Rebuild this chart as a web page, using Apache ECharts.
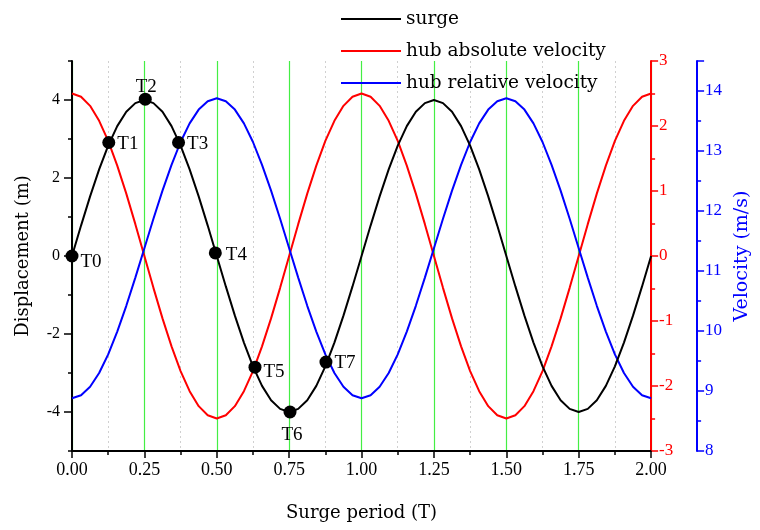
<!DOCTYPE html>
<html>
<head>
<meta charset="utf-8">
<script src="https://cdn.jsdelivr.net/npm/echarts@6/dist/echarts.min.js"></script>
<style>html,body{margin:0;padding:0;background:#fff}#c{width:760px;height:530px}</style>
</head>
<body>
<div id="c"></div>
<script>
// Surge period sample points (T), step 1/32
var period = [0, 0.03125, 0.0625, 0.09375, 0.125, 0.15625, 0.1875, 0.21875, 0.25, 0.28125, 0.3125, 0.34375, 0.375, 0.40625, 0.4375, 0.46875,
  0.5, 0.53125, 0.5625, 0.59375, 0.625, 0.65625, 0.6875, 0.71875, 0.75, 0.78125, 0.8125, 0.84375, 0.875, 0.90625, 0.9375, 0.96875,
  1.0, 1.03125, 1.0625, 1.09375, 1.125, 1.15625, 1.1875, 1.21875, 1.25, 1.28125, 1.3125, 1.34375, 1.375, 1.40625, 1.4375, 1.46875,
  1.5, 1.53125, 1.5625, 1.59375, 1.625, 1.65625, 1.6875, 1.71875, 1.75, 1.78125, 1.8125, 1.84375, 1.875, 1.90625, 1.9375, 1.96875, 2.0];
// surge displacement (m)
var surge = [0, 0.78, 1.53, 2.22, 2.83, 3.33, 3.70, 3.92, 4.0, 3.92, 3.70, 3.33, 2.83, 2.22, 1.53, 0.78,
  0, -0.78, -1.53, -2.22, -2.83, -3.33, -3.70, -3.92, -4.0, -3.92, -3.70, -3.33, -2.83, -2.22, -1.53, -0.78,
  0, 0.78, 1.53, 2.22, 2.83, 3.33, 3.70, 3.92, 4.0, 3.92, 3.70, 3.33, 2.83, 2.22, 1.53, 0.78,
  0, -0.78, -1.53, -2.22, -2.83, -3.33, -3.70, -3.92, -4.0, -3.92, -3.70, -3.33, -2.83, -2.22, -1.53, -0.78, 0];
// hub absolute velocity (m/s)
var hubAbs = [2.5, 2.45, 2.31, 2.08, 1.77, 1.39, 0.96, 0.49, 0, -0.49, -0.96, -1.39, -1.77, -2.08, -2.31, -2.45,
  -2.5, -2.45, -2.31, -2.08, -1.77, -1.39, -0.96, -0.49, 0, 0.49, 0.96, 1.39, 1.77, 2.08, 2.31, 2.45,
  2.5, 2.45, 2.31, 2.08, 1.77, 1.39, 0.96, 0.49, 0, -0.49, -0.96, -1.39, -1.77, -2.08, -2.31, -2.45,
  -2.5, -2.45, -2.31, -2.08, -1.77, -1.39, -0.96, -0.49, 0, 0.49, 0.96, 1.39, 1.77, 2.08, 2.31, 2.45, 2.5];
// hub relative velocity (m/s)
var hubRel = [8.88, 8.93, 9.07, 9.30, 9.61, 9.99, 10.42, 10.89, 11.38, 11.87, 12.34, 12.77, 13.15, 13.46, 13.69, 13.83,
  13.88, 13.83, 13.69, 13.46, 13.15, 12.77, 12.34, 11.87, 11.38, 10.89, 10.42, 9.99, 9.61, 9.30, 9.07, 8.93,
  8.88, 8.93, 9.07, 9.30, 9.61, 9.99, 10.42, 10.89, 11.38, 11.87, 12.34, 12.77, 13.15, 13.46, 13.69, 13.83,
  13.88, 13.83, 13.69, 13.46, 13.15, 12.77, 12.34, 11.87, 11.38, 10.89, 10.42, 9.99, 9.61, 9.30, 9.07, 8.93, 8.88];
// marked instants
var markNames = ['T0', 'T1', 'T2', 'T3', 'T4', 'T5', 'T6', 'T7'];
var markT = [0, 0.127, 0.253, 0.368, 0.495, 0.632, 0.753, 0.877];
var markD = [0, 2.91, 4.02, 2.91, 0.08, -2.85, -4.0, -2.72];
var leftMajor = [-4, -2, 0, 2, 4];
var leftMinor = [-5, -3, -1, 1, 3, 5];

var numFont = 'Liberation Serif';
var txtFont = 'DejaVu Serif';

function pairs(xs, ys) { return xs.map(function (x, i) { return [x, ys[i]]; }); }

var markPos = ['right', 'right', 'top', 'right', 'right', 'right', 'bottom', 'right'];
var markOff = [[-2, 6], [-2, 2], [1, 8], [-2, 2], [0, 2], [-2, 5], [2, 3], [-2, 1]];
var markData = markT.map(function (t, i) {
  return {
    value: [t, markD[i]],
    label: { position: markPos[i], offset: markOff[i], formatter: markNames[i] }
  };
});

var chart = echarts.init(document.getElementById('c'));
chart.setOption({
  animation: false,
  backgroundColor: '#fff',
  grid: { left: 72, right: 107, top: 61, bottom: 79 },
  legend: {
    orient: 'vertical', left: 336, top: 4, itemWidth: 60, itemHeight: 2, itemGap: 12,
    icon: 'rect',
    textStyle: { fontFamily: txtFont, fontSize: 18.5, color: '#000', lineHeight: 20 },
    data: ['surge', 'hub absolute velocity', 'hub relative velocity']
  },
  xAxis: {
    type: 'value', min: 0, max: 2, interval: 0.25,
    name: 'Surge period (T)', nameLocation: 'middle', nameGap: 53,
    nameTextStyle: { fontFamily: txtFont, fontSize: 18, color: '#000' },
    axisLine: { show: true, onZero: false, lineStyle: { color: '#000', width: 2 } },
    axisTick: { show: true, length: 7, lineStyle: { color: '#000', width: 1.5 } },
    minorTick: { show: true, splitNumber: 2, length: 4, lineStyle: { color: '#000', width: 1.5 } },
    axisLabel: { fontFamily: numFont, fontSize: 18, color: '#000', margin: 10,
      formatter: function (v) { return v.toFixed(2); } },
    splitLine: { show: true, lineStyle: { color: '#44ee44', width: 1.2 } },
    minorSplitLine: { show: true, lineStyle: { color: '#d0d0d0', width: 1, type: [2, 3] } }
  },
  yAxis: [
    {
      type: 'value', min: -5, max: 5, position: 'left',
      name: 'Displacement (m)', nameLocation: 'middle', nameGap: 40,
      nameTextStyle: { fontFamily: txtFont, fontSize: 18, color: '#000' },
      axisLine: { show: true, onZero: false, lineStyle: { color: '#000', width: 2 } },
      axisTick: { show: true, length: 8, customValues: leftMajor, lineStyle: { color: '#000', width: 1.5 } },
      axisLabel: { fontFamily: numFont, fontSize: 16, color: '#000', margin: 12, customValues: leftMajor },
      splitLine: { show: false }
    },
    {
      type: 'value', min: -3, max: 3, interval: 1, position: 'right', offset: 0,
      axisLine: { show: true, onZero: false, lineStyle: { color: '#ff0000', width: 2 } },
      axisTick: { show: true, length: 7, lineStyle: { color: '#ff0000', width: 1.5 } },
      minorTick: { show: true, splitNumber: 2, length: 4, lineStyle: { color: '#ff0000', width: 1.5 } },
      axisLabel: { fontFamily: numFont, fontSize: 17, color: '#ff0000', margin: 8 },
      splitLine: { show: false }
    },
    {
      type: 'value', min: 8, max: 14.5, interval: 1, position: 'right', offset: 46,
      name: 'Velocity (m/s)', nameLocation: 'middle', nameGap: 34, nameRotate: 90,
      nameTextStyle: { fontFamily: txtFont, fontSize: 19, color: '#0000ff' },
      axisLine: { show: true, onZero: false, lineStyle: { color: '#0000ff', width: 2 } },
      axisTick: { show: true, length: 7, lineStyle: { color: '#0000ff', width: 1.5 } },
      minorTick: { show: true, splitNumber: 2, length: 4, lineStyle: { color: '#0000ff', width: 1.5 } },
      axisLabel: { fontFamily: numFont, fontSize: 17, color: '#0000ff', margin: 8, showMaxLabel: false },
      splitLine: { show: false }
    },
    {
      type: 'value', min: -5, max: 5, position: 'left', offset: 0,
      axisLine: { show: false },
      axisTick: { show: true, length: 4, customValues: leftMinor, lineStyle: { color: '#000', width: 1.5 } },
      axisLabel: { show: false },
      splitLine: { show: false }
    }
  ],
  series: [
    {
      name: 'surge', type: 'line', xAxisIndex: 0, yAxisIndex: 0, smooth: false, symbol: 'none', z: 4,
      itemStyle: { color: '#000' }, lineStyle: { color: '#000', width: 2 },
      data: pairs(period, surge)
    },
    {
      name: 'hub absolute velocity', type: 'line', xAxisIndex: 0, yAxisIndex: 1, smooth: false, symbol: 'none', z: 3,
      itemStyle: { color: '#ff0000' }, lineStyle: { color: '#ff0000', width: 2 },
      data: pairs(period, hubAbs)
    },
    {
      name: 'hub relative velocity', type: 'line', xAxisIndex: 0, yAxisIndex: 2, smooth: false, symbol: 'none', z: 3,
      itemStyle: { color: '#0000ff' }, lineStyle: { color: '#0000ff', width: 2 },
      data: pairs(period, hubRel)
    },
    {
      name: 'marks', type: 'scatter', xAxisIndex: 0, yAxisIndex: 0, symbolSize: 13, z: 6,
      itemStyle: { color: '#000', opacity: 1 },
      label: { show: true, fontFamily: numFont, fontSize: 19, color: '#000', distance: 4 },
      data: markData
    }
  ]
});
</script>
</body>
</html>
